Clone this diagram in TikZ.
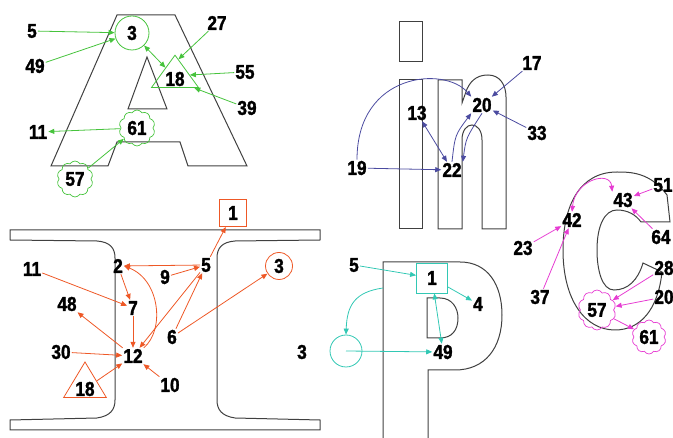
\documentclass[tikz,border=0pt]{standalone}
\usepackage{fontspec}
\setmainfont{Liberation Sans}
\newfontfamily\numfont[FakeStretch=0.86, FakeBold=1.6]{Liberation Sans Bold}
\usepackage{xcolor}
\usetikzlibrary{arrows.meta, shapes.symbols, shapes.geometric}

\definecolor{agreen}{RGB}{70,195,60}
\definecolor{mblue}{RGB}{75,75,160}
\definecolor{cpink}{RGB}{230,60,210}
\definecolor{iorange}{RGB}{238,88,38}
\definecolor{pteal}{RGB}{50,200,180}

\tikzset{
  num/.style={font={\numfont\fontsize{20}{20}\selectfont}, inner sep=1pt},
  outline/.style={draw=black!75, line width=1pt},
  link/.style={draw=#1, line width=0.8pt, -{Triangle[length=6pt,width=5pt]}},
  twolink/.style={draw=#1, line width=0.8pt, {Triangle[length=6pt,width=5pt]}-{Triangle[length=6pt,width=5pt]}},
  ring/.style={num, circle, draw=#1, line width=0.8pt, inner sep=0pt},
  puff/.style={num, cloud, cloud puffs=10, cloud puff arc=120, aspect=1, draw=#1, line width=0.7pt, minimum width=36pt, minimum height=36pt, inner sep=0pt},
  tri/.style={num, isosceles triangle, shape border rotate=90, isosceles triangle apex angle=62, draw=#1, line width=0.8pt, inner sep=1.5pt},
  boxed/.style={num, rectangle, draw=#1, line width=0.8pt, inner sep=0pt, minimum width=27pt, minimum height=27pt}
}

\begin{document}
\begin{tikzpicture}[x=1pt, y=-1pt]
  \useasboundingbox (0,0) rectangle (673,438);
  \clip (0,0) rectangle (673,438);

  % letter outlines
  \draw[outline] (117,15) -- (175,15) -- (247,166) -- (188,166) -- (180,142) -- (117,142) -- (108,166) -- (51,166) -- cycle;
  \draw[outline] (147,57) -- (167,109) -- (128,109) -- cycle;
  \draw[outline] (399,22) rectangle (422,62);
  \draw[outline] (399,80) rectangle (422,229);
  \draw[outline] (438,229) -- (438,80) -- (462,80) -- (462,103) -- (467,89)
    .. controls (472,78) and (480,75) .. (488,75) .. controls (500,75) and (506,85) .. (506,97)
    -- (506,229) -- (482,229) -- (482,140) .. controls (482,130) and (477,125) .. (472,125)
    .. controls (467,125) and (462,130) .. (462,140) -- (462,229) -- cycle;
  \draw[outline] (667,195) .. controls (650,172) and (630,172) .. (617,172)
    .. controls (580,172) and (563,205) .. (563,250) .. controls (563,300) and (585,330) .. (615,330)
    .. controls (640,330) and (658,310) .. (662,272) -- (643,263)
    .. controls (638,280) and (628,290) .. (614,290) .. controls (602,290) and (597,270) .. (597,250)
    .. controls (597,225) and (605,210) .. (617,210) .. controls (628,210) and (636,215) .. (641,222)
    -- (670,222) -- cycle;
  \draw[outline] (10,230) -- (320,230) -- (320,240) -- (235,241) .. controls (222,242) and (217,248) .. (217,258)
    -- (217,400) .. controls (217,410) and (222,416) .. (235,418) -- (320,420) -- (320,430) -- (10,430)
    -- (10,420) -- (97,418) .. controls (110,416) and (115,410) .. (115,400) -- (115,258)
    .. controls (115,248) and (110,242) .. (97,241) -- (10,240) -- cycle;
  \draw[outline] (383,440) -- (383,262) -- (460,262) .. controls (488,262) and (502,285) .. (502,315)
    .. controls (502,348) and (485,370) .. (455,370) -- (428,370) -- (428,440);
  \draw[outline] (427,298) -- (440,298) .. controls (452,298) and (458,308) .. (458,318)
    .. controls (458,330) and (452,338) .. (440,338) -- (427,338) -- cycle;

  % green part
  \foreach \n/\t/\x/\y in {a5/5/32/31, a49/49/35/66, a27/27/217/23, a55/55/245/72, a39/39/247/108, a11/11/38/132}
    \node[num] (\n) at (\x,\y) {\t};
  \node[ring=agreen, minimum size=34pt] (a3) at (132,33) {3};
  \node[tri=agreen, isosceles triangle apex angle=72] (a18) at (175,79) {18};
  \node[puff=agreen] (a61) at (137,128) {61};
  \node[puff=agreen] (a57) at (75,179) {57};
  \foreach \s/\e in {a5/a3, a49/a3, a27/a18.80, a55/a18.15, a39/a18.-25, a61/a11, a57/a61}
    \draw[link=agreen] (\s) -- (\e);
  \draw[twolink=agreen] (a3) -- (a18.130);

  % blue part
  \foreach \n/\t/\x/\y in {m13/13/417/113, m20/20/482/105, m22/22/452/170, m17/17/532/63, m33/33/537/133, m19/19/357/168}
    \node[num] (\n) at (\x,\y) {\t};
  \foreach \s/\e in {m19/m22, m17/m20, m33/m20}
    \draw[link=mblue] (\s) -- (\e);
  \draw[link=mblue] (m19.north) .. controls (357,72) and (445,66) .. (m20.north west);
  \draw[twolink=mblue] (m13) -- (m22);
  \draw[link=mblue] (m22.north) .. controls (455,135) .. (m20.south west);
  \draw[link=mblue] (m20.south) .. controls (466,138) .. (m22.north east);

  % pink part
  \foreach \n/\t/\x/\y in {c42/42/572/220, c43/43/623/200, c51/51/663/185, c64/64/661/237, c28/28/664/268, c20/20/664/297, c23/23/523/248, c37/37/540/297}
    \node[num] (\n) at (\x,\y) {\t};
  \node[puff=cpink, minimum width=38pt, minimum height=40pt] (c57) at (597,310) {57};
  \node[puff=cpink, minimum width=34pt, minimum height=34pt] (c61) at (649,337) {61};
  \foreach \s/\e in {c51/c43, c64/c43, c23/c42, c37/c42, c28/c57, c20/c57, c57/c61}
    \draw[link=cpink] (\s) -- (\e);
  \draw[twolink=cpink] (c42.north) .. controls (575,180) and (610,170) .. (c43.north west);

  % orange part
  \foreach \n/\t/\x/\y in {i2/2/118/266, i5/5/206/265, i9/9/165/277, i11/11/32/269, i7/7/133/308, i48/48/67/304, i6/6/172/337, i30/30/61/352, i12/12/133/356, i10/10/170/385}
    \node[num] (\n) at (\x,\y) {\t};
  \node[boxed=iorange] (i1) at (233,213) {1};
  \node[ring=iorange, minimum size=27pt] (i3) at (279,266) {3};
  \node[tri=iorange] (i18) at (85,389) {18};
  \foreach \s/\e in {i5/i2, i5/i1, i9/i5, i11/i7, i2/i7, i7/i12, i12/i48, i30/i12, i18/i12, i10/i12, i6/i5, i6/i3, i5/i12}
    \draw[link=iorange] (\s) -- (\e);
  \draw[link=iorange] (i12.north east) .. controls (165,330) and (160,280) .. (i2.east);

  % teal part
  \foreach \n/\t/\x/\y in {p5/5/354/265, p4/4/478/304, p49/49/443/352, p3/3/302/352}
    \node[num] (\n) at (\x,\y) {\t};
  \node[boxed=pteal, minimum width=31pt, minimum height=30pt] (p1) at (432,278) {1};
  \node[ring=pteal, minimum size=32pt] (pc) at (346,351) {};
  \coordinate (pstart) at (383,288);
  \foreach \s/\e in {p5/p1, p1/p4}
    \draw[link=pteal] (\s) -- (\e);
  \draw[twolink=pteal] (p1) -- (p49);
  \draw[link=pteal] (pc.center) -- (p49);
  \draw[link=pteal] (pstart) .. controls (355,292) and (347,305) .. (pc.north);
\end{tikzpicture}
\end{document}
